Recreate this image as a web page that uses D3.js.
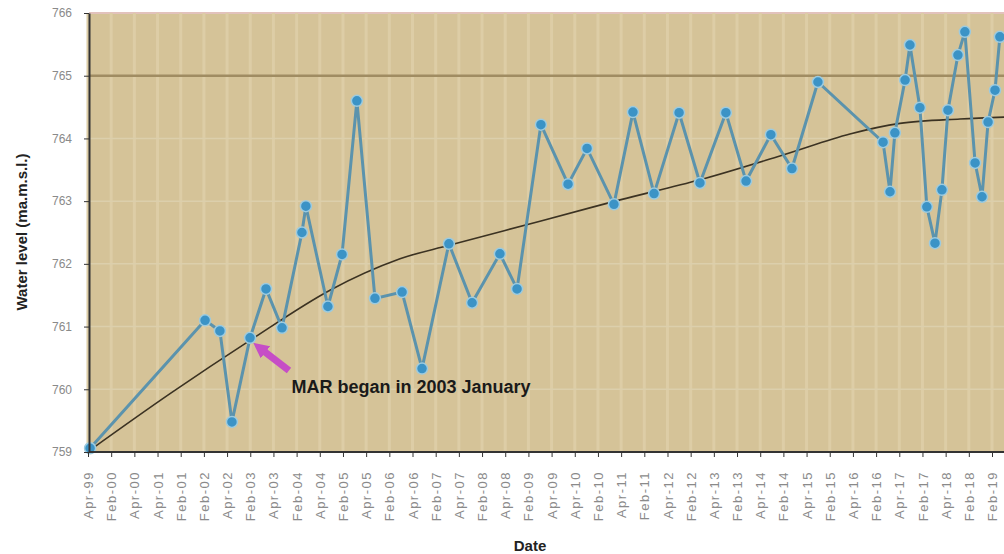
<!DOCTYPE html>
<html>
<head>
<meta charset="utf-8">
<script src="https://cdn.jsdelivr.net/npm/d3@7"></script>
<style>
	body { margin: 0; background: #fff; }
	svg { display: block; font-family: "Liberation Sans", Arial, sans-serif; }
	.axis path, .axis line { stroke: #333; }
	.axis text { fill: #8a8a8a; }
</style>
</head>
<body>
<div id="chart"></div>
<script>
// tick labels along the date axis (one per tick, evenly spaced)
var xLabels = ["Apr-99", "Feb-00", "Apr-00", "Apr-01", "Feb-01", "Feb-02", "Apr-02", "Feb-03", "Apr-03", "Feb-04",
	"Apr-04", "Feb-05", "Apr-05", "Feb-06", "Apr-06", "Feb-07", "Apr-07", "Feb-08", "Apr-08", "Feb-09",
	"Apr-09", "Apr-10", "Feb-10", "Apr-11", "Feb-11", "Apr-12", "Feb-12", "Apr-13", "Feb-13", "Apr-14",
	"Feb-14", "Apr-15", "Feb-15", "Apr-16", "Feb-16", "Apr-17", "Feb-17", "Apr-18", "Feb-18", "Feb-19"];

var yTicks = [759, 760, 761, 762, 763, 764, 765, 766];

// observed water level: position along the axis (in tick units) and level
var obsPos = [0.09, 5.05, 5.69, 6.21, 6.99, 7.68, 8.37, 9.23, 9.40, 10.35,
	10.96, 11.60, 12.38, 13.55, 14.41, 15.57, 16.57, 17.77, 18.51, 19.54,
	20.71, 21.53, 22.69, 23.51, 24.42, 25.50, 26.40, 27.52, 28.39, 29.46,
	30.37, 31.49, 34.30, 34.60, 34.81, 35.25, 35.46, 35.89, 36.19, 36.54,
	36.84, 37.10, 37.53, 37.83, 38.27, 38.57, 38.83, 39.13, 39.34];
var obsLevel = [759.06, 761.10, 760.93, 759.48, 760.82, 761.60, 760.98, 762.50, 762.92, 761.32,
	762.15, 764.60, 761.45, 761.55, 760.33, 762.32, 761.38, 762.16, 761.60, 764.22,
	763.27, 763.84, 762.95, 764.42, 763.12, 764.41, 763.29, 764.41, 763.32, 764.06,
	763.52, 764.90, 763.94, 763.15, 764.09, 764.93, 765.49, 764.49, 762.91, 762.33,
	763.18, 764.45, 765.33, 765.70, 763.61, 763.07, 764.26, 764.77, 765.62];

// polynomial trend line
var trendPos = [0.09, 3.54, 6.99, 10.44, 13.46, 15.62, 19.50, 22.95, 26.40, 29.85, 32.87, 35.03, 37.62, 39.52];
var trendLevel = [759.03, 759.93, 760.78, 761.58, 762.08, 762.30, 762.68, 763.02, 763.34, 763.72, 764.07, 764.24, 764.31, 764.34];

// annotation
var noteText = "MAR began in 2003 January";
var notePos = 8.78, noteLevel = 759.94;
var arrowFrom = [8.67, 760.3], arrowTo = [7.55, 760.62];

var width = 1004, height = 554,
	plotLeft = 89, plotTop = 13, plotBottom = 452, plotRight = 1010;

var svg = d3.select("#chart").append("svg")
	.attr("width", width)
	.attr("height", height);

var x = d3.scaleLinear().domain([0, xLabels.length - 1]).range([88, 992]);
var y = d3.scaleLinear().domain([759, 766]).range([plotBottom, plotTop]);

// plot background
svg.append("rect")
	.attr("x", plotLeft).attr("y", plotTop)
	.attr("width", plotRight - plotLeft).attr("height", plotBottom - plotTop)
	.attr("fill", "#d5c398");
svg.append("line")
	.attr("x1", plotLeft).attr("x2", plotRight).attr("y1", plotTop).attr("y2", plotTop)
	.attr("stroke", "#e2c2bc").attr("stroke-width", 2);

// vertical stripes at every tick
svg.append("g").selectAll("line")
	.data(d3.range(xLabels.length))
	.enter().append("line")
	.attr("x1", function (d) { return x(d); })
	.attr("x2", function (d) { return x(d); })
	.attr("y1", plotTop).attr("y2", plotBottom)
	.attr("stroke", "#ddcda6").attr("stroke-width", 3);

// horizontal grid
svg.append("g").selectAll("line")
	.data(yTicks.slice(1, -1))
	.enter().append("line")
	.attr("x1", plotLeft).attr("x2", plotRight)
	.attr("y1", function (d) { return y(d); })
	.attr("y2", function (d) { return y(d); })
	.attr("stroke", function (d) { return d == 765 ? "#a08c62" : "#dccfac"; })
	.attr("stroke-width", function (d) { return d == 765 ? 2.5 : 1.5; });

// trend line
var trendLine = d3.line()
	.x(function (d) { return x(d[0]); })
	.y(function (d) { return y(d[1]); })
	.curve(d3.curveCatmullRom);
svg.append("path")
	.datum(d3.zip(trendPos, trendLevel))
	.attr("d", trendLine)
	.attr("fill", "none")
	.attr("stroke", "#3b3222")
	.attr("stroke-width", 1.6);

// observed series
var obs = d3.zip(obsPos, obsLevel);
svg.append("path")
	.datum(obs)
	.attr("d", d3.line().x(function (d) { return x(d[0]); }).y(function (d) { return y(d[1]); }))
	.attr("fill", "none")
	.attr("stroke", "#5b93ad")
	.attr("stroke-width", 3);
svg.append("g").selectAll("circle")
	.data(obs)
	.enter().append("circle")
	.attr("cx", function (d) { return x(d[0]); })
	.attr("cy", function (d) { return y(d[1]); })
	.attr("r", 5.5)
	.attr("fill", "#3b93c6")
	.attr("stroke", "#9ccbe0")
	.attr("stroke-width", 1.5);

// annotation arrow + text
svg.append("defs").append("marker")
	.attr("id", "head")
	.attr("viewBox", "0 0 10 10")
	.attr("refX", 2).attr("refY", 5)
	.attr("markerWidth", 2.2).attr("markerHeight", 2.2)
	.attr("orient", "auto")
	.append("path")
	.attr("d", "M0,0L10,5L0,10Z")
	.attr("fill", "#c64ec6");
svg.append("line")
	.attr("x1", x(arrowFrom[0])).attr("y1", y(arrowFrom[1]))
	.attr("x2", x(arrowTo[0])).attr("y2", y(arrowTo[1]))
	.attr("stroke", "#c64ec6")
	.attr("stroke-width", 7)
	.attr("marker-end", "url(#head)");
svg.append("text")
	.attr("x", x(notePos)).attr("y", y(noteLevel))
	.attr("font-size", 18).attr("font-weight", "bold")
	.attr("fill", "#1a1a1a")
	.text(noteText);

// axes
var yAxis = svg.append("g")
	.attr("class", "axis")
	.attr("transform", "translate(" + plotLeft + ",0)")
	.call(d3.axisLeft(y).tickValues(yTicks).tickFormat(d3.format("d"))
		.tickSize(5).tickPadding(12).tickSizeOuter(0));
yAxis.selectAll("text").attr("font-size", 12);
yAxis.select(".domain").attr("stroke-width", 2);

var xAxis = svg.append("g")
	.attr("class", "axis")
	.attr("transform", "translate(0," + plotBottom + ")")
	.call(d3.axisBottom(x).tickValues(d3.range(xLabels.length))
		.tickFormat(function (d) { return xLabels[d]; })
		.tickSize(5).tickSizeOuter(0));
xAxis.select(".domain").attr("d", "M" + plotLeft + ",0H" + plotRight).attr("stroke-width", 2);
xAxis.selectAll("text")
	.attr("font-size", 13)
	.attr("letter-spacing", 1.5)
	.attr("transform", "rotate(-90)")
	.attr("x", -19).attr("y", 0).attr("dy", "0.35em")
	.style("text-anchor", "end");

// axis titles
svg.append("text")
	.attr("transform", "translate(27,232) rotate(-90)")
	.attr("text-anchor", "middle")
	.attr("font-size", 15).attr("font-weight", "bold")
	.attr("fill", "#222")
	.text("Water level (ma.m.s.l.)");
svg.append("text")
	.attr("x", 530).attr("y", 551)
	.attr("text-anchor", "middle")
	.attr("font-size", 15).attr("font-weight", "bold")
	.attr("fill", "#222")
	.text("Date");
</script>
</body>
</html>
